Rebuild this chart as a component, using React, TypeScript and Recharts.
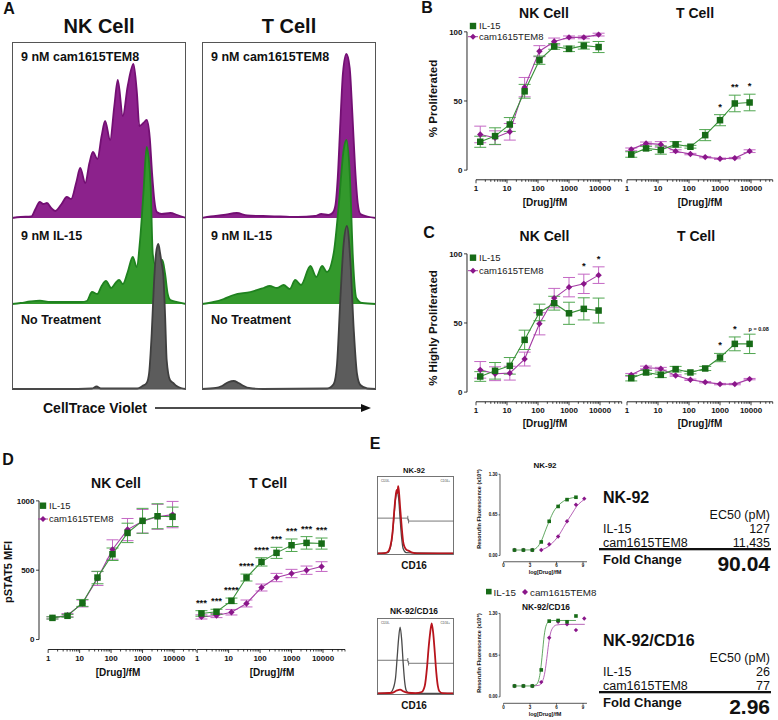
import React from 'react';
import {
  Area,
  AreaChart,
  ComposedChart,
  ErrorBar,
  Line,
  ReferenceLine,
  XAxis,
  YAxis,
} from 'recharts';

/**
 * Four-panel proliferation / pSTAT5 figure: CTV histograms (A),
 * dose-response curves (B-D) and the NK-92 reporter assay (E).
 */

const FONT = '"Liberation Sans", Arial, Helvetica, sans-serif';
const INK = '#111';

const GREEN = '#176b17';
const GREEN_LINE = '#3a923a';
const GREEN_ERR = '#4fa64f';
const PURPLE = '#8a168a';
const PURPLE_LINE = '#a53ca5';
const PURPLE_ERR = '#c467c4';
const PURPLE_FILL = '#8c228c';
const PURPLE_EDGE = '#730f73';
const GREEN_FILL = '#33992c';
const GREEN_EDGE = '#1f821f';
const GRAY_FILL = '#5c5c5c';
const GRAY_EDGE = '#3f3f3f';
const RED = '#b8141c';

// ---- axes ----
const doses = [1.37, 4.12, 12.3, 37, 111, 333, 1000, 3000, 9000];
const decades = [1, 10, 100, 1000, 10000];
const pctTicks = [0, 50, 100];
const mfiTicks = [0, 500, 1000];
const logDoseTicks = [0, 3, 6, 9];
const fluorTicks = [0, 0.65, 1.3];

// ---- A: CellTrace Violet histograms, [channel %, count] ----
const nkCam = [[0,0],[5,1],[11,1.5],[13.5,9],[15.9,16],[18,14],[20.1,15],[22.5,10],[24.9,7],[28.5,14],[31.5,21],[34,19],[37,36],[39.2,50],[42.1,35],[44.5,55],[46.5,66],[49.1,59],[51.5,82],[53.5,97],[56.4,78],[58.8,112],[60.8,138],[63.7,102],[66.5,132],[69.8,154],[71.8,125],[73.2,92],[75.5,95],[77.4,98],[79.2,80],[80.5,45],[81.8,18],[83.2,6],[86,4],[91,5],[95,3],[100,0]];
const nkIl15 = [[0,0],[5,1],[10.5,2.5],[16,3.3],[22,2],[30,2],[40,2],[43,3],[46,12],[49,10],[51.5,18],[54,23],[57,16],[59.5,21],[61.5,24],[63.7,20],[66.5,32],[69.4,47],[71.7,37],[73.6,64],[75.5,110],[77.4,157],[78.6,145],[79.7,117],[80.9,50],[82.2,40],[84.1,42],[86.4,44],[88,30],[89.5,10],[91,4],[95,2],[100,0]];
const nkNone = [[0,0],[30,0],[46,0.5],[48.6,2.5],[51,0.5],[72,0.5],[75,3],[77.4,6],[78.8,16],[80.3,56],[81.6,106],[82.8,136],[84.1,145],[85.1,136],[86,126],[87,113],[88,73],[88.9,29],[90.8,9],[92.7,6],[94.6,3],[97,1],[100,0]];
const tCam = [[0,0],[5,1.5],[12.5,3],[20,5],[26,2.5],[35,2],[45,1.5],[55,1],[65,2],[68.6,4],[72.6,3],[75,5],[76.6,12],[78,40],[79.5,95],[81,145],[83,164],[84.9,150],[86.4,105],[88,50],[89.5,15],[91,4],[95,1.5],[100,0]];
const tIl15 = [[0,0],[6.7,2],[12.5,5],[18.2,9],[27.8,12],[35.4,16],[38.9,18],[43.1,16],[46.9,19],[50.4,15],[53.6,24],[56.9,19],[62.3,38],[65.7,27],[69,38],[71.8,32],[75.7,51],[78.5,97],[81.4,154],[83,164],[84.9,131],[86.8,44],[88.7,6],[92,1],[100,0]];
const tNone = [[0,0],[8,1],[11.5,3],[15.3,7],[18.2,8],[21,6],[24,3],[27,1],[35,0],[72,0.5],[75.7,5],[77.6,25],[79.5,90],[81.4,145],[83.3,163],[85.2,130],[87.2,60],[89.1,15],[91,4],[95,0.5],[100,0]];

// ---- B: % proliferated ----
const bNkIl15 = [20.5, 24.6, 33, 57, 79.5, 89.4, 87.7, 90, 89];
const bNkIl15Err = [4, 6, 5, 5, 3, 2, 2, 2.5, 4];
const bNkCam = [25.8, 23.4, 27.7, 60, 86, 93, 96, 96, 98];
const bNkCamErr = [6, 5, 6, 7, 4, 2.5, 1, 1, 1];
const bTIl15 = [11.3, 15.7, 14.5, 18.6, 16.9, 25.3, 36.1, 48.2, 48.9];
const bTIl15Err = [2, 1.5, 3, 2, 1, 4, 4, 6, 6];
const bTCam = [15, 19.3, 18.6, 13.7, 11.6, 9.4, 8.2, 8.7, 13.7];
const bTCamErr = [1, 1, 2, 1, 0.5, 0.5, 0.5, 0.5, 1];
const bTSig = ['', '', '', '', '', '', '*', '**', '*'];

// ---- C: % highly proliferated ----
const cNkIl15 = [11.3, 15.4, 19, 37.8, 57.6, 64.3, 57, 60.2, 59];
const cNkIl15Err = [3.5, 6, 6, 7, 6, 5, 8, 8, 9];
const cNkCam = [16.1, 13.3, 13.7, 23.9, 49.4, 68, 75.9, 78.3, 84.6];
const cNkCamErr = [6, 5, 5, 5, 8, 7, 7, 7, 6];
const cNkSig = ['', '', '', '', '', '', '', '*', '*'];
const cTIl15 = [10.1, 14.2, 12.5, 16.6, 14.2, 17.1, 25, 34.9, 34.9];
const cTIl15Err = [2, 1.5, 2, 2, 1, 1.5, 3, 5, 7];
const cTCam = [12.5, 17.8, 16.9, 12, 8.9, 7.2, 5.8, 5.8, 9.4];
const cTCamErr = [1, 1, 1, 0.5, 0.5, 0.5, 0.5, 0.5, 0.5];
const cTSig = ['', '', '', '', '', '', '*', '*', 'p = 0.08'];

// ---- D: pSTAT5 MFI ----
const dNkIl15 = [156, 171, 264, 447, 615, 769, 856, 889, 885];
const dNkIl15Err = [8, 10, 25, 45, 45, 70, 90, 90, 70];
const dNkCam = [156, 175, 260, 440, 649, 793, 853, 885, 901];
const dNkCamErr = [8, 12, 25, 50, 70, 80, 85, 90, 95];
const dTIl15 = [188, 200, 279, 447, 560, 625, 680, 697, 692];
const dTIl15Err = [20, 18, 20, 25, 30, 40, 45, 45, 40];
const dTCam = [163, 173, 197, 260, 375, 447, 476, 500, 526];
const dTCamErr = [15, 15, 20, 25, 25, 30, 30, 30, 35];
const dTSig = ['***', '***', '****', '****', '****', '***', '***', '***', '***'];

// ---- E: CD16 flow, [channel %, % of max] ----
const nk92Gray = [[0,0],[14,1],[18,10],[21,35],[24,70],[26,80],[28,72],[30,45],[32,20],[34,6],[38,1],[100,0]];
const nk92Red = [[0,0],[10,0.5],[14,2],[17,8],[20,25],[22,50],[24,72],[25.5,82],[26.5,78],[27.5,87],[28.5,80],[30,60],[32,35],[34,15],[36,8],[38,5],[42,3],[46,1],[52,0],[100,0]];
const cd16Gray = [[0,0],[17,1],[20,4],[24,20],[26,45],[28,72],[30,88],[32,72],[34,40],[36,15],[38,4],[41,1],[45,0],[100,0]];
const cd16Red = [[0,0],[20,1],[26,4],[30,5],[34,3],[40,1],[50,0.5],[58,2],[62,10],[65,35],[67,60],[69,80],[71,93],[73,80],[75,55],[77,28],[79,10],[81,3],[85,0.5],[100,0]];

// ---- E: resorufin reporter, log[Drug] vs fluorescence (x10^6) ----
const logDose = [1.24, 2.25, 3.26, 4.27, 5.17, 6.18, 7.19, 8.2, 9.14];
const e1Il15 = [0.087, 0.087, 0.087, 0.217, 0.547, 0.785, 0.894, 0.932];
const e1Cam = [0.087, 0.087, 0.087, 0.087, 0.179, 0.303, 0.547, 0.812, 0.91];
const e1Il15FitX = [1.2, 3.2, 3.8, 4.3, 4.8, 5.2, 5.7, 6.2, 6.8, 7.4, 8.2];
const e1Il15FitY = [0.087, 0.09, 0.13, 0.24, 0.42, 0.56, 0.71, 0.8, 0.87, 0.91, 0.93];
const e1CamFitX = [4.2, 4.8, 5.3, 5.8, 6.3, 6.8, 7.3, 7.8, 8.3, 8.8, 9.2];
const e1CamFitY = [0.09, 0.12, 0.17, 0.24, 0.33, 0.45, 0.57, 0.68, 0.79, 0.86, 0.9];
const e2Il15 = [0.17, 0.17, 0.17, 0.42, 1.18, 1.19, 1.17, 1.26];
const e2Cam = [0.17, 0.17, 0.17, 0.23, 0.92, 1.17, 1.13, 1.04, 1.22];
const e2Il15FitX = [1.2, 3.2, 3.7, 4.0, 4.2, 4.4, 4.6, 4.8, 5.1, 5.6, 8.2];
const e2Il15FitY = [0.17, 0.17, 0.19, 0.27, 0.42, 0.68, 0.95, 1.1, 1.17, 1.19, 1.19];
const e2CamFitX = [3.2, 4.0, 4.4, 4.7, 4.9, 5.1, 5.3, 5.6, 6.0, 7.0, 9.2];
const e2CamFitY = [0.17, 0.18, 0.24, 0.4, 0.6, 0.82, 0.98, 1.08, 1.12, 1.13, 1.13];

// ---------------------------------------------------------------------------

const XMIN = 0.512;
const XMAX = 50000;
const LOG_TICKS = decades
  .flatMap((d) => [1, 2, 3, 4, 5, 6, 7, 8, 9].map((m) => d * m))
  .filter((v) => v <= XMAX);

function doseRows(il: number[], ilErr: number[], cam: number[], camErr: number[], sig?: string[]) {
  return doses.map((dose, i) => {
    const s = sig ? sig[i] : '';
    return {
      dose,
      il: il[i],
      ilErr: ilErr[i],
      cam: cam[i],
      camErr: camErr[i],
      sig: s,
      sigY: s ? Math.max(il[i] + ilErr[i], cam[i] + camErr[i]) : null,
    };
  });
}

const xy = (xs: number[], ys: number[]) => ys.map((y, i) => ({ x: xs[i], y }));
const hist = (pts: number[][]) => pts.map(([c, n]) => ({ c, n }));

const squareDot = (size: number, fill: string) => (p: any) =>
  p.cy == null ? (
    <g key={`q${p.index}`} />
  ) : (
    <rect key={`q${p.index}`} x={p.cx - size / 2} y={p.cy - size / 2} width={size} height={size} fill={fill} />
  );

const diamondDot = (r: number, fill: string) => (p: any) =>
  p.cy == null ? (
    <g key={`d${p.index}`} />
  ) : (
    <polygon
      key={`d${p.index}`}
      points={`${p.cx},${p.cy - r} ${p.cx + r},${p.cy} ${p.cx},${p.cy + r} ${p.cx - r},${p.cy}`}
      fill={fill}
    />
  );

function sigMark(p: any) {
  const { cx, cy, payload, index } = p;
  if (cy == null || !payload || !payload.sig) return <g key={`s${index}`} />;
  const isP = payload.sig.startsWith('p');
  return (
    <text
      key={`s${index}`}
      x={isP ? cx - 1 : cx}
      y={isP ? cy - 3.5 : cy - 5}
      textAnchor={isP ? 'start' : 'middle'}
      fontSize={isP ? 5.5 : 9.5}
      fontWeight={700}
      fill={INK}
      fontFamily={FONT}
    >
      {payload.sig}
    </text>
  );
}

function LogTick(props: any) {
  const { x, y, payload } = props;
  const v = payload.value;
  const major = decades.includes(v);
  return (
    <g>
      <line x1={x} x2={x} y1={y} y2={y + (major ? 3.5 : 2)} stroke={INK} strokeWidth={0.8} />
      {major && (
        <text x={x} y={y + 11.5} textAnchor="middle" fontSize={8} fontWeight={700} fill={INK} fontFamily={FONT}>
          {v}
        </text>
      )}
    </g>
  );
}

function SmallTick(props: any) {
  const { x, y, payload } = props;
  return (
    <g>
      <line x1={x} x2={x} y1={y} y2={y + 1.5} stroke={INK} strokeWidth={0.6} />
      <text x={x} y={y + 5.5} textAnchor="middle" fontSize={4.5} fontWeight={700} fill={INK} fontFamily={FONT}>
        {payload.value}
      </text>
    </g>
  );
}

// ---- A ----
const A_TOP = 42;
const A_W = 174;

function Hist({ left, base, points, fill, stroke }: { left: number; base: number; points: number[][]; fill: string; stroke: string }) {
  const h = base - A_TOP;
  return (
    <div style={{ position: 'absolute', left, top: A_TOP }}>
      <AreaChart width={A_W} height={h + 2} data={hist(points)} margin={{ top: 0, right: 0, bottom: 0, left: 0 }}>
        <XAxis type="number" dataKey="c" domain={[0, 100]} hide />
        <YAxis type="number" domain={[-2, h]} allowDataOverflow hide />
        <Area
          type="monotone"
          dataKey="n"
          baseValue={0}
          stroke={stroke}
          strokeWidth={1.8}
          fill={fill}
          fillOpacity={1}
          dot={false}
          activeDot={false}
          isAnimationActive={false}
        />
      </AreaChart>
    </div>
  );
}

// ---- B-D ----
const Y_W = 30;
const X_H = 24;

interface DoseChartProps {
  plotLeft: number;
  plotTop: number;
  plotBottom: number;
  plotWidth: number;
  yLo: number;
  yHi: number;
  yTicks: number[];
  rows: ReturnType<typeof doseRows>;
  showY?: boolean;
}

function DoseChart({ plotLeft, plotTop, plotBottom, plotWidth, yLo, yHi, yTicks, rows, showY }: DoseChartProps) {
  const yw = showY ? Y_W : 0;
  const yTop = yTicks[yTicks.length - 1];
  return (
    <div style={{ position: 'absolute', left: plotLeft - yw, top: plotTop }}>
      <ComposedChart
        width={yw + plotWidth + 8}
        height={plotBottom - plotTop + X_H}
        data={rows}
        margin={{ top: 0, right: 8, bottom: 0, left: 0 }}
      >
        <XAxis
          type="number"
          dataKey="dose"
          scale="log"
          domain={[XMIN, XMAX]}
          allowDataOverflow
          ticks={LOG_TICKS}
          interval={0}
          axisLine={false}
          tickLine={false}
          tickSize={0}
          tickMargin={0}
          tick={(p: any) => <LogTick {...p} />}
          height={X_H}
        />
        {showY ? (
          <YAxis
            type="number"
            domain={[yLo, yHi]}
            allowDataOverflow
            ticks={yTicks}
            interval={0}
            width={Y_W}
            axisLine={false}
            tickSize={3}
            tickMargin={1.5}
            tickLine={{ stroke: INK, strokeWidth: 0.8 }}
            tick={{ fontSize: 8, fontWeight: 700, fill: INK, fontFamily: FONT }}
          />
        ) : (
          <YAxis type="number" domain={[yLo, yHi]} allowDataOverflow hide />
        )}
        {showY && (
          <ReferenceLine
            segment={[{ x: XMIN, y: 0 }, { x: XMIN, y: yTop }]}
            stroke={INK}
            strokeWidth={0.9}
            ifOverflow="visible"
          />
        )}
        <ReferenceLine
          segment={[{ x: 1, y: yLo }, { x: XMAX, y: yLo }]}
          stroke={INK}
          strokeWidth={0.9}
          ifOverflow="visible"
        />
        <Line
          dataKey="cam"
          stroke={PURPLE_LINE}
          strokeWidth={1.1}
          dot={diamondDot(3.2, PURPLE)}
          activeDot={false}
          isAnimationActive={false}
        >
          <ErrorBar dataKey="camErr" width={6} stroke={PURPLE_ERR} strokeWidth={1} direction="y" />
        </Line>
        <Line
          dataKey="il"
          stroke={GREEN_LINE}
          strokeWidth={1.1}
          dot={squareDot(6.5, GREEN)}
          activeDot={false}
          isAnimationActive={false}
        >
          <ErrorBar dataKey="ilErr" width={6} stroke={GREEN_ERR} strokeWidth={1} direction="y" />
        </Line>
        <Line dataKey="sigY" stroke="none" dot={sigMark} activeDot={false} isAnimationActive={false} />
      </ComposedChart>
    </div>
  );
}

// ---- E ----
const E_XMIN = -0.4;
const E_XMAX = 9.45;
const E_PLOT_W = 87;

interface FitChartProps {
  plotTop: number;
  plotBottom: number;
  il: { x: number; y: number }[];
  cam: { x: number; y: number }[];
  ilFit: { x: number; y: number }[];
  camFit: { x: number; y: number }[];
}

function FitChart({ plotTop, plotBottom, il, cam, ilFit, camFit }: FitChartProps) {
  const yw = 16;
  const xh = 12;
  const yLo = -0.1;
  return (
    <div style={{ position: 'absolute', left: 500 - yw, top: plotTop }}>
      <ComposedChart
        width={yw + E_PLOT_W + 4}
        height={plotBottom - plotTop + xh}
        margin={{ top: 0, right: 4, bottom: 0, left: 0 }}
      >
        <XAxis
          type="number"
          dataKey="x"
          domain={[E_XMIN, E_XMAX]}
          allowDataOverflow
          ticks={logDoseTicks}
          interval={0}
          axisLine={false}
          tickLine={false}
          tickSize={0}
          tickMargin={0}
          tick={(p: any) => <SmallTick {...p} />}
          height={xh}
        />
        <YAxis
          type="number"
          domain={[yLo, 1.4]}
          allowDataOverflow
          ticks={fluorTicks}
          interval={0}
          width={yw}
          axisLine={false}
          tickSize={1.5}
          tickMargin={1}
          tickLine={{ stroke: INK, strokeWidth: 0.6 }}
          tick={{ fontSize: 4.5, fontWeight: 700, fill: INK, fontFamily: FONT }}
          tickFormatter={(v: number) => v.toFixed(2)}
        />
        <ReferenceLine segment={[{ x: E_XMIN, y: 0 }, { x: E_XMIN, y: 1.3 }]} stroke={INK} strokeWidth={0.7} ifOverflow="visible" />
        <ReferenceLine segment={[{ x: 0, y: yLo }, { x: E_XMAX, y: yLo }]} stroke={INK} strokeWidth={0.7} ifOverflow="visible" />
        <Line data={camFit} dataKey="y" type="monotone" stroke={PURPLE_LINE} strokeWidth={0.8} dot={false} activeDot={false} isAnimationActive={false} />
        <Line data={ilFit} dataKey="y" type="monotone" stroke={GREEN_LINE} strokeWidth={0.8} dot={false} activeDot={false} isAnimationActive={false} />
        <Line data={cam} dataKey="y" stroke="none" dot={diamondDot(2.2, PURPLE)} activeDot={false} isAnimationActive={false} />
        <Line data={il} dataKey="y" stroke="none" dot={squareDot(3.6, GREEN)} activeDot={false} isAnimationActive={false} />
      </ComposedChart>
    </div>
  );
}

function FlowBox({ top, height, gray, red, gateL, gateR }: { top: number; height: number; gray: number[][]; red: number[][]; gateL: number; gateR: number }) {
  return (
    <div style={{ position: 'absolute', left: 377, top }}>
      <ComposedChart width={77} height={height} margin={{ top: 0, right: 0, bottom: 0, left: 0 }}>
        <XAxis type="number" dataKey="c" domain={[0, 100]} allowDataOverflow hide />
        <YAxis type="number" domain={[-2, 100]} allowDataOverflow hide />
        <ReferenceLine segment={[{ x: 0, y: gateL }, { x: 40, y: gateL }]} stroke="#555" strokeWidth={0.8} ifOverflow="visible" />
        <ReferenceLine segment={[{ x: 40, y: gateL - 3 }, { x: 40, y: gateL + 3 }]} stroke="#555" strokeWidth={0.8} ifOverflow="visible" />
        <ReferenceLine segment={[{ x: 41, y: gateR }, { x: 100, y: gateR }]} stroke="#555" strokeWidth={0.8} ifOverflow="visible" />
        <ReferenceLine segment={[{ x: 41, y: gateR - 3 }, { x: 41, y: gateR + 3 }]} stroke="#555" strokeWidth={0.8} ifOverflow="visible" />
        <Line data={hist(gray)} dataKey="n" type="monotone" stroke="#4a4a4a" strokeWidth={1.3} dot={false} activeDot={false} isAnimationActive={false} />
        <Line data={hist(red)} dataKey="n" type="monotone" stroke={RED} strokeWidth={1.8} dot={false} activeDot={false} isAnimationActive={false} />
      </ComposedChart>
    </div>
  );
}

// ---- text overlay ----
type LblProps = {
  x: number;
  y: number;
  s: number;
  b?: boolean;
  a?: 'start' | 'middle' | 'end';
  rot?: boolean;
  c?: string;
  children: React.ReactNode;
};

function Lbl({ x, y, s, b, a = 'start', rot, c = INK, children }: LblProps) {
  const common = { fontSize: s, fontWeight: b ? 700 : 400, fill: c, fontFamily: FONT, textAnchor: a };
  if (rot) {
    return (
      <text {...common} transform={`translate(${x},${y}) rotate(-90)`} x={0} y={0.36 * s}>
        {children}
      </text>
    );
  }
  return (
    <text {...common} x={x} y={y + 0.36 * s}>
      {children}
    </text>
  );
}

function Legend2({ x, y1, y2, size = 9.5 }: { x: number; y1: number; y2: number; size?: number }) {
  return (
    <g>
      <rect x={x - 3.2} y={y1 - 3.2} width={6.4} height={6.4} fill={GREEN} />
      <line x1={x - 5} x2={x + 5} y1={y2} y2={y2} stroke={PURPLE_LINE} strokeWidth={1} />
      <polygon points={`${x},${y2 - 3} ${x + 3},${y2} ${x},${y2 + 3} ${x - 3},${y2}`} fill={PURPLE} />
      <Lbl x={x + 6} y={y1} s={size} c="#222">IL-15</Lbl>
      <Lbl x={x + 6} y={y2} s={size} c="#222">cam1615TEM8</Lbl>
    </g>
  );
}

function Table({ top, name, il, cam, fold }: { top: number; name: string; il: string; cam: string; fold: string }) {
  return (
    <g>
      <Lbl x={603} y={top} s={16} b>{name}</Lbl>
      <Lbl x={770} y={top + 17} s={12.5} a="end">EC50 (pM)</Lbl>
      <Lbl x={603} y={top + 31} s={12.5}>IL-15</Lbl>
      <Lbl x={770} y={top + 31} s={12.5} a="end">{il}</Lbl>
      <Lbl x={603} y={top + 45.5} s={12.5}>cam1615TEM8</Lbl>
      <Lbl x={770} y={top + 45.5} s={12.5} a="end">{cam}</Lbl>
      <rect x={599} y={top + 51} width={172} height={2.3} fill={INK} />
      <Lbl x={603} y={top + 62} s={13} b>Fold Change</Lbl>
      <Lbl x={770} y={top + 66} s={21} b a="end">{fold}</Lbl>
    </g>
  );
}

function Overlay() {
  return (
    <svg width={778} height={720} style={{ position: 'absolute', left: 0, top: 0, pointerEvents: 'none' }}>
      {/* panel letters */}
      <Lbl x={9} y={8.5} s={16} b a="middle">A</Lbl>
      <Lbl x={427} y={7.5} s={16} b a="middle">B</Lbl>
      <Lbl x={429} y={232.5} s={16} b a="middle">C</Lbl>
      <Lbl x={8} y={459} s={16} b a="middle">D</Lbl>
      <Lbl x={375} y={443.5} s={16} b a="middle">E</Lbl>

      {/* A */}
      <Lbl x={99} y={25.5} s={20} b a="middle">NK Cell</Lbl>
      <Lbl x={289} y={25.5} s={20} b a="middle">T Cell</Lbl>
      <rect x={12.5} y={42.5} width={173} height={346.5} fill="none" stroke="#555" strokeWidth={1} />
      <rect x={202.5} y={42.5} width={173} height={346.5} fill="none" stroke="#555" strokeWidth={1} />
      {[21, 211].map((x) => (
        <g key={x}>
          <Lbl x={x} y={56} s={12.5} b>9 nM cam1615TEM8</Lbl>
          <Lbl x={x} y={235.5} s={12.5} b>9 nM IL-15</Lbl>
          <Lbl x={x} y={319.5} s={12.5} b>No Treatment</Lbl>
        </g>
      ))}
      <Lbl x={43} y={408} s={14} b>CellTrace Violet</Lbl>
      <line x1={155} x2={363} y1={408} y2={408} stroke={INK} strokeWidth={1.5} />
      <polygon points="361,404 371,408 361,412" fill={INK} />

      {/* B */}
      <Lbl x={544} y={13} s={14} b a="middle">NK Cell</Lbl>
      <Lbl x={695} y={13} s={14} b a="middle">T Cell</Lbl>
      <Lbl x={433} y={98.5} s={11.5} b a="middle" rot>% Proliferated</Lbl>
      <Lbl x={545} y={202.5} s={10} b a="middle">[Drug]/fM</Lbl>
      <Lbl x={700} y={202.5} s={10} b a="middle">[Drug]/fM</Lbl>
      <Legend2 x={473} y1={26} y2={36.7} />

      {/* C */}
      <Lbl x={544.5} y={235.5} s={14} b a="middle">NK Cell</Lbl>
      <Lbl x={696} y={235.5} s={14} b a="middle">T Cell</Lbl>
      <Lbl x={433} y={328} s={11.5} b a="middle" rot>% Highly Proliferated</Lbl>
      <Lbl x={545} y={423} s={10} b a="middle">[Drug]/fM</Lbl>
      <Lbl x={700} y={423} s={10} b a="middle">[Drug]/fM</Lbl>
      <Legend2 x={473} y1={257.7} y2={270.7} />

      {/* D */}
      <Lbl x={116} y={482.5} s={14} b a="middle">NK Cell</Lbl>
      <Lbl x={268} y={482.5} s={14} b a="middle">T Cell</Lbl>
      <Lbl x={8.5} y={572} s={11} b a="middle" rot>pSTAT5 MFI</Lbl>
      <Lbl x={118} y={672} s={10} b a="middle">[Drug]/fM</Lbl>
      <Lbl x={272} y={672} s={10} b a="middle">[Drug]/fM</Lbl>
      <Legend2 x={43} y1={505.7} y2={519} />

      {/* E flow boxes */}
      <Lbl x={414} y={470} s={7.6} b a="middle">NK-92</Lbl>
      <rect x={377.5} y={476.5} width={76} height={78} fill="none" stroke="#666" strokeWidth={0.9} />
      <Lbl x={381} y={480.5} s={3} c="#444">CD16-</Lbl>
      <Lbl x={450} y={480.5} s={3} a="end" c="#444">CD16+</Lbl>
      <Lbl x={414} y={565} s={10} b a="middle">CD16</Lbl>
      <Lbl x={414} y={611} s={8.4} b a="middle">NK-92/CD16</Lbl>
      <rect x={377.5} y={618.5} width={76} height={76} fill="none" stroke="#666" strokeWidth={0.9} />
      <Lbl x={381} y={622.5} s={3} c="#444">CD16-</Lbl>
      <Lbl x={450} y={622.5} s={3} a="end" c="#444">CD16+</Lbl>
      <Lbl x={414} y={705} s={10} b a="middle">CD16</Lbl>

      {/* E reporter curves */}
      <Lbl x={545} y={465} s={8} b a="middle">NK-92</Lbl>
      <Lbl x={479} y={509} s={5.5} b a="middle" rot>Resorufin Fluorescence (x10⁶)</Lbl>
      <Lbl x={545} y={572} s={5.5} b a="middle">log[Drug]/fM</Lbl>
      <rect x={486} y={588.8} width={5.6} height={5.6} fill={GREEN} />
      <Lbl x={493.5} y={592} s={9.8} c="#222">IL-15</Lbl>
      <polygon points="525,589 528,592 525,595 522,592" fill={PURPLE} />
      <Lbl x={530} y={592} s={9.8} c="#222">cam1615TEM8</Lbl>
      <Lbl x={546} y={607} s={8.4} b a="middle">NK-92/CD16</Lbl>
      <Lbl x={479} y={653} s={5.5} b a="middle" rot>Resorufin Fluorescence (x10⁶)</Lbl>
      <Lbl x={545} y={714} s={5.5} b a="middle">log[Drug]/fM</Lbl>

      {/* E tables */}
      <Table top={497} name="NK-92" il="127" cam="11,435" fold="90.04" />
      <Table top={640} name="NK-92/CD16" il="26" cam="77" fold="2.96" />
    </svg>
  );
}

export default function App() {
  const bNk = doseRows(bNkIl15, bNkIl15Err, bNkCam, bNkCamErr);
  const bT = doseRows(bTIl15, bTIl15Err, bTCam, bTCamErr, bTSig);
  const cNk = doseRows(cNkIl15, cNkIl15Err, cNkCam, cNkCamErr, cNkSig);
  const cT = doseRows(cTIl15, cTIl15Err, cTCam, cTCamErr, cTSig);
  const dNk = doseRows(dNkIl15, dNkIl15Err, dNkCam, dNkCamErr);
  const dT = doseRows(dTIl15, dTIl15Err, dTCam, dTCamErr, dTSig);

  return (
    <div
      style={{
        position: 'absolute',
        left: 0,
        top: 0,
        width: 778,
        height: 720,
        background: '#fff',
        fontFamily: FONT,
        overflow: 'hidden',
      }}
    >
      {/* A: histograms, drawn back to front */}
      <Hist left={12} base={218} points={nkCam} fill={PURPLE_FILL} stroke={PURPLE_EDGE} />
      <Hist left={12} base={304} points={nkIl15} fill={GREEN_FILL} stroke={GREEN_EDGE} />
      <Hist left={12} base={389} points={nkNone} fill={GRAY_FILL} stroke={GRAY_EDGE} />
      <Hist left={202} base={218} points={tCam} fill={PURPLE_FILL} stroke={PURPLE_EDGE} />
      <Hist left={202} base={304} points={tIl15} fill={GREEN_FILL} stroke={GREEN_EDGE} />
      <Hist left={202} base={389} points={tNone} fill={GRAY_FILL} stroke={GRAY_EDGE} />

      {/* B */}
      <DoseChart plotLeft={467} plotTop={17.9} plotBottom={179.7} plotWidth={154.7} yLo={-7} yHi={110} yTicks={pctTicks} rows={bNk} showY />
      <DoseChart plotLeft={618} plotTop={17.9} plotBottom={179.7} plotWidth={154.7} yLo={-7} yHi={110} yTicks={pctTicks} rows={bT} />

      {/* C */}
      <DoseChart plotLeft={467} plotTop={240.2} plotBottom={402} plotWidth={154.7} yLo={-7} yHi={110} yTicks={pctTicks} rows={cNk} showY />
      <DoseChart plotLeft={618} plotTop={240.2} plotBottom={402} plotWidth={154.7} yLo={-7} yHi={110} yTicks={pctTicks} rows={cT} />

      {/* D */}
      <DoseChart plotLeft={39.3} plotTop={486.8} plotBottom={649.3} plotWidth={157} yLo={-72} yHi={1100} yTicks={mfiTicks} rows={dNk} showY />
      <DoseChart plotLeft={187.8} plotTop={486.8} plotBottom={649.3} plotWidth={157} yLo={-72} yHi={1100} yTicks={mfiTicks} rows={dT} />

      {/* E */}
      <FlowBox top={476} height={79} gray={nk92Gray} red={nk92Red} gateL={45.6} gateR={41.8} />
      <FlowBox top={618} height={77} gray={cd16Gray} red={cd16Red} gateL={44} gateR={40} />
      <FitChart
        plotTop={467.5}
        plotBottom={561.25}
        il={xy(logDose, e1Il15)}
        cam={xy(logDose, e1Cam)}
        ilFit={xy(e1Il15FitX, e1Il15FitY)}
        camFit={xy(e1CamFitX, e1CamFitY)}
      />
      <FitChart
        plotTop={606.8}
        plotBottom={703.1}
        il={xy(logDose, e2Il15)}
        cam={xy(logDose, e2Cam)}
        ilFit={xy(e2Il15FitX, e2Il15FitY)}
        camFit={xy(e2CamFitX, e2CamFitY)}
      />

      <Overlay />
    </div>
  );
}
